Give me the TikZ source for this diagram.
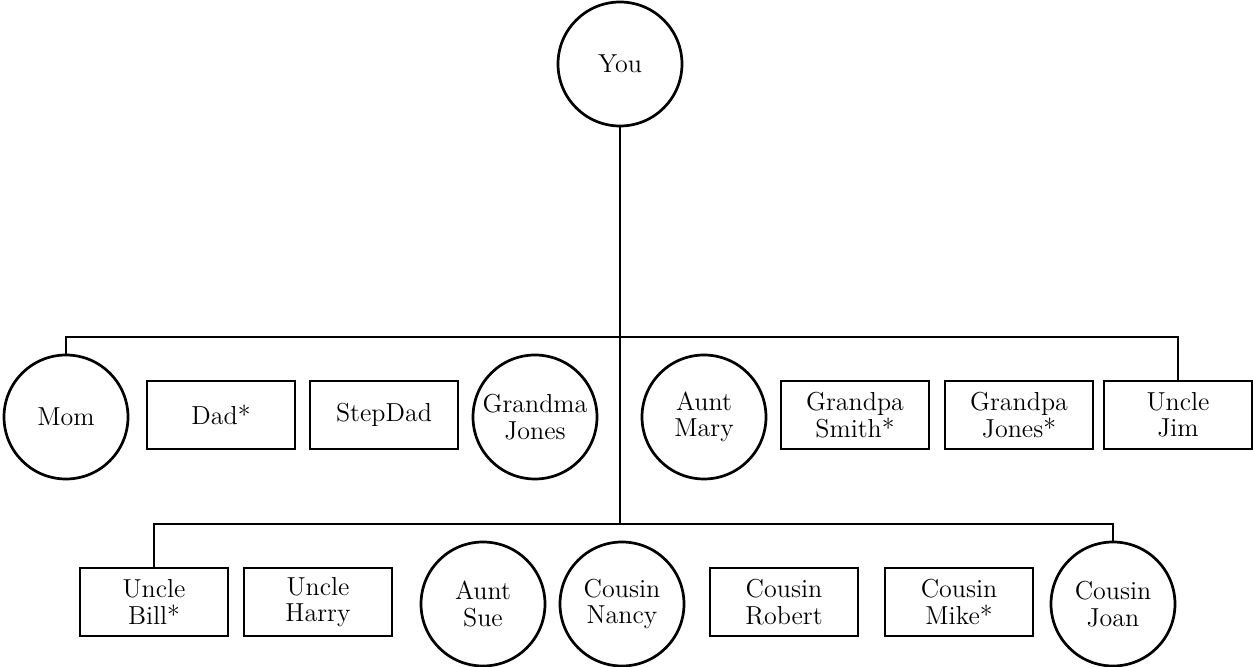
\documentclass[tikz,border=0pt]{standalone}
\usepackage{tikz}

\tikzset{
  person/.style={draw, line width=1.35pt, align=center, inner sep=0pt,
    font=\fontsize{13}{13.2}\selectfont},
  female/.style={person, circle, minimum size=62pt},
  male/.style={person, rectangle, minimum width=74pt, minimum height=34pt},
  link/.style={line width=1.35pt}
}

\begin{document}
\begin{tikzpicture}[x=0.5pt,y=-0.5pt]
        \useasboundingbox (0,0) rectangle (1253,667);
        % Arrel
        \node[female] (you) at (620,64) {You};
        % Primera fila
        \node[female] (mom)          at (66,417)   {Mom};
        \node[male]   (dad)          at (221,415)  {Dad*};
        \node[male]   (stepdad)      at (384,415)  {StepDad};
        \node[female] (grandmajones) at (535,417)  {Grandma\\Jones};
        \node[female] (auntmary)     at (704,417)  {Aunt\\Mary};
        \node[male]   (grandpasmith) at (855,415)  {Grandpa\\Smith*};
        \node[male]   (grandpajones) at (1019,415) {Grandpa\\Jones*};
        \node[male]   (unclejim)     at (1178,415) {Uncle\\Jim};
        % Segona fila
        \node[male]   (unclebill)    at (154,602)  {Uncle\\Bill*};
        \node[male]   (uncleharry)   at (318,602)  {Uncle\\Harry};
        \node[female] (auntsue)      at (483,604)  {Aunt\\Sue};
        \node[female] (cousinnancy)  at (622,604)  {Cousin\\Nancy};
        \node[male]   (cousinrobert) at (784,602)  {Cousin\\Robert};
        \node[male]   (cousinmike)   at (959,602)  {Cousin\\Mike*};
        \node[female] (cousinjoan)   at (1113,604) {Cousin\\Joan};
        % Barres horitzontals
        \coordinate (bar1) at (620,337);
        \coordinate (bar2) at (620,524);
        \draw[link] (you.south) -- (bar2);
        \draw[link] (mom.north) |- (bar1) -| (unclejim.north);
        \draw[link] (unclebill.north) |- (bar2) -| (cousinjoan.north);
    \end{tikzpicture}
\end{document}
